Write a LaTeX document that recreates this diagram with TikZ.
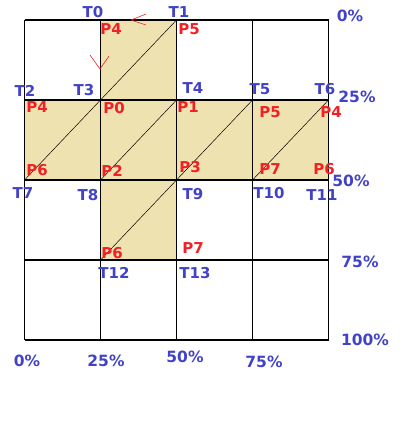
\documentclass[tikz,border=0pt]{standalone}
\usepackage{fontspec}
\setmainfont{DejaVu Sans}
\usetikzlibrary{positioning}
\definecolor{tblue}{RGB}{66,66,200}
\definecolor{pred}{RGB}{242,32,36}
\definecolor{texfill}{RGB}{238,226,177}

\tikzset{
  tlabel/.style={text=tblue,font=\fontsize{15}{17}\selectfont\bfseries,inner sep=0pt},
  plabel/.style={text=pred,font=\fontsize{15}{17}\selectfont\bfseries,inner sep=0pt},
  pctlabel/.style={tlabel,font=\fontsize{15.5}{17}\selectfont\bfseries},
  gridline/.style={line width=1.3pt},
  diag/.style={line width=0.5pt}
}

\begin{document}
\begin{tikzpicture}[x=1pt,y=-1pt]
    \useasboundingbox (0,0) rectangle (417,429);
    % shaded cells
    \fill[texfill] (100.5,20) rectangle (176.5,100);
    \fill[texfill] (24.5,100) rectangle (328.5,180);
    \fill[texfill] (100.5,180) rectangle (176.5,260);
    % diagonals
    \foreach \x in {24.5,100.5,176.5,252.5} \draw[diag] (\x,180) -- ++(76,-80);
    \draw[diag] (100.5,100) -- (176.5,20);
    \draw[diag] (100.5,260) -- (176.5,180);
    % grid
    \foreach \i in {0,...,4} \draw[gridline] ({24.5+76*\i},20) -- ({24.5+76*\i},340);
    \foreach \j in {0,...,4} \draw[gridline] (24.5,{20+80*\j}) -- (328.5,{20+80*\j});
    % red marks
    \draw[pred,line width=0.6pt] (146,14) -- (131,20) -- (146,25);
    \draw[pred,line width=0.6pt] (90,55) -- (100,69) -- (109,56);
    % T labels
    \node[tlabel] (t0) at (93,12) {T0};
    \node[tlabel] (t1) at (179,12) {T1};
    \node[tlabel] (t2) at (25,91) {T2};
    \node[tlabel] (t3) at (84,90) {T3};
    \node[tlabel] (t4) at (193,88) {T4};
    \node[tlabel] (t5) at (260,89) {T5};
    \node[tlabel] (t6) at (325,89) {T6};
    \node[tlabel] (t7) at (23,193) {T7};
    \node[tlabel] (t8) at (88,195) {T8};
    \node[tlabel] (t9) at (193,194) {T9};
    \node[tlabel] (t10) at (269,193) {T10};
    \node[tlabel] (t11) at (322,195) {T11};
    \node[tlabel] (t12) at (114,273) {T12};
    \node[tlabel] (t13) at (195,273) {T13};
    % P labels
    \node[plabel] (ptop4) at (111,29) {P4};
    \node[plabel] (ptop5) at (189,29) {P5};
    \node[plabel] (prow4) at (37,107) {P4};
    \node[plabel] (prow0) at (114,108) {P0};
    \node[plabel] (prow1) at (188,107) {P1};
    \node[plabel] (prow5) at (270,112) {P5};
    \node[plabel] (pend4) at (331,112) {P4};
    \node[plabel] (prow6) at (37,170) {P6};
    \node[plabel] (prow2) at (112,171) {P2};
    \node[plabel] (prow3) at (190,167) {P3};
    \node[plabel] (prow7) at (270,169) {P7};
    \node[plabel] (pend6) at (324,169) {P6};
    \node[plabel] (pbot6) at (112,253) {P6};
    \node[plabel] (pbot7) at (193,248) {P7};
    % percent scales
    \node[pctlabel] (v0) at (350,16) {0\%};
    \node[pctlabel] (v25) at (357,97) {25\%};
    \node[pctlabel] (v50) at (351,181) {50\%};
    \node[pctlabel] (v75) at (360,262) {75\%};
    \node[pctlabel] (v100) at (365,340) {100\%};
    \node[pctlabel] (h0) at (27,361) {0\%};
    \node[pctlabel] (h25) at (106,361) {25\%};
    \node[pctlabel] (h50) at (185,357) {50\%};
    \node[pctlabel] (h75) at (264,362) {75\%};
\end{tikzpicture}
\end{document}
